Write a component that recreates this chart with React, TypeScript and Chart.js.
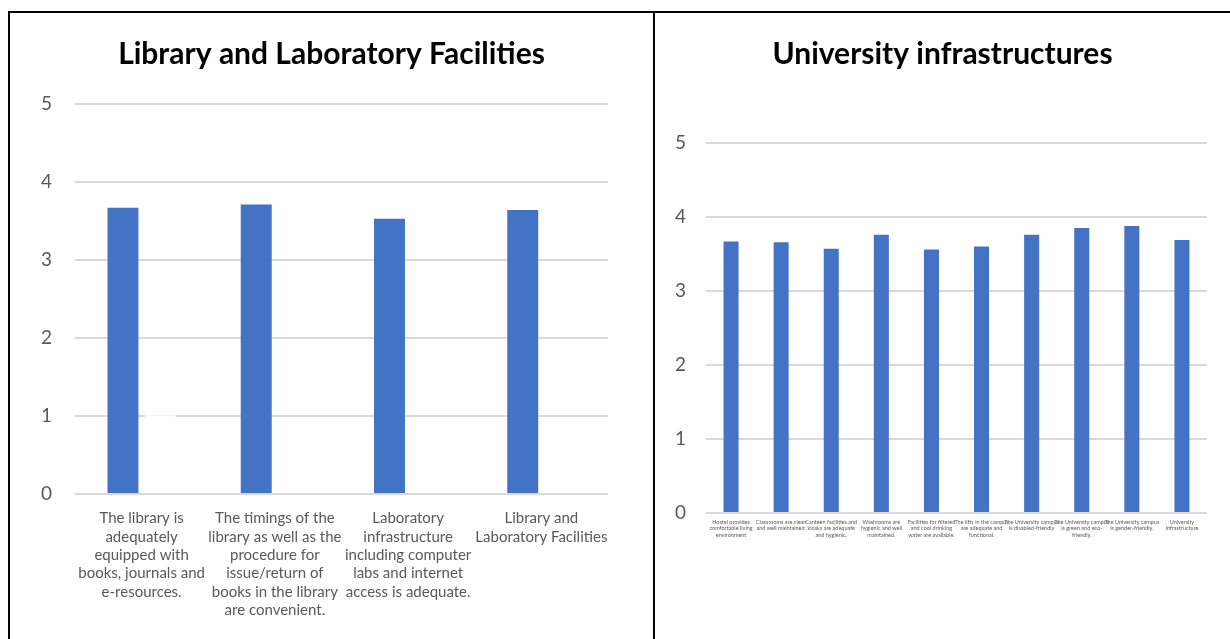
import React, { useEffect, useRef } from 'react';
import { Chart, registerables } from 'chart.js';

Chart.register(...registerables);

const libTitle = 'Library and Laboratory Facilities';
const libCategories: string[][] = [
  ['The library is', 'adequately', 'equipped with', 'books, journals and', 'e-resources.'],
  ['The timings of the', 'library as well as the', 'procedure for', 'issue/return of', 'books in the library', 'are convenient.'],
  ['Laboratory', 'infrastructure', 'including computer', 'labs and internet', 'access is adequate.'],
  ['Library and', 'Laboratory Facilities'],
];
const libScores = [3.67, 3.71, 3.53, 3.64];
const libSeries2: (number | null)[] = [1.01, null, null, null];

const uniTitle = 'University infrastructures';
const uniCategories: string[][] = [
  ['Hostel provides', 'comfortable living', 'environment'],
  ['Classrooms are clean', 'and well maintained.'],
  ['Canteen facilities and', 'kiosks are adequate', 'and hygienic.'],
  ['Washrooms are', 'hygienic and well', 'maintained.'],
  ['Facilities for filtered', 'and cool drinking', 'water are available.'],
  ['The lifts in the campus', 'are adequate and', 'functional.'],
  ['The University campus', 'is disabled-friendly'],
  ['The University campus', 'is green and eco-', 'friendly.'],
  ['The University campus', 'is gender-friendly.'],
  ['University', 'Infrastructure'],
];
const uniScores = [3.67, 3.66, 3.57, 3.76, 3.56, 3.6, 3.76, 3.85, 3.88, 3.69];

const yMin = 0;
const yMax = 5;
const yStep = 1;

const BLUE = '#4472C4';
const GRID = '#D9D9D9';
const TEXT = '#595959';
const FONT = 'Lato';

function spacerAxis(width: number) {
  return {
    position: 'right' as const,
    display: true,
    grid: { display: false, drawTicks: false },
    border: { display: false },
    ticks: { display: false },
    afterFit: (scale: any) => { scale.width = width; },
  };
}

function LibraryChart() {
  const ref = useRef<HTMLCanvasElement | null>(null);
  useEffect(() => {
    if (!ref.current) return;
    const chart = new Chart(ref.current, {
      type: 'bar',
      data: {
        labels: libCategories,
        datasets: [
          { label: 'Series1', data: libScores, backgroundColor: BLUE, borderWidth: 0, categoryPercentage: 0.56, barPercentage: 0.83 },
          { label: 'Series2', data: libSeries2, backgroundColor: '#FFFFFF', borderWidth: 0, categoryPercentage: 0.56, barPercentage: 0.83 },
        ],
      },
      options: {
        responsive: false,
        animation: false,
        devicePixelRatio: 1,
        layout: { padding: 0 },
        plugins: {
          legend: { display: false },
          tooltip: { enabled: false },
          title: {
            display: true,
            text: libTitle,
            color: '#000000',
            font: { family: FONT, size: 30, weight: 'bold', lineHeight: 1.2 },
            padding: { top: 23, bottom: 32 },
          },
        },
        scales: {
          x: {
            grid: { display: false },
            border: { display: false },
            ticks: {
              color: TEXT,
              font: { family: FONT, size: 15, lineHeight: 1.23 },
              autoSkip: false,
              maxRotation: 0,
              minRotation: 0,
              padding: 7,
            },
            afterFit: (scale: any) => { scale.height = 145; },
          },
          y: {
            min: yMin,
            max: yMax,
            grid: { color: GRID, lineWidth: 2, drawTicks: false },
            border: { display: false },
            ticks: {
              stepSize: yStep,
              color: TEXT,
              font: { family: FONT, size: 19 },
              padding: 23,
            },
            afterFit: (scale: any) => { scale.width = 65; },
          },
          yRightSpace: spacerAxis(45),
        },
      },
    });
    return () => chart.destroy();
  }, []);
  return <canvas ref={ref} width={643} height={626} style={{ position: 'absolute', left: 10, top: 13, width: 643, height: 626 }} />;
}

function UniversityChart() {
  const ref = useRef<HTMLCanvasElement | null>(null);
  useEffect(() => {
    if (!ref.current) return;
    const chart = new Chart(ref.current, {
      type: 'bar',
      data: {
        labels: uniCategories,
        datasets: [
          { label: 'Series1', data: uniScores, backgroundColor: BLUE, borderWidth: 0, categoryPercentage: 1, barPercentage: 0.3 },
        ],
      },
      options: {
        responsive: false,
        animation: false,
        devicePixelRatio: 1,
        layout: { padding: 0 },
        plugins: {
          legend: { display: false },
          tooltip: { enabled: false },
          title: {
            display: true,
            text: uniTitle,
            color: '#000000',
            font: { family: FONT, size: 30, weight: 'bold', lineHeight: 1.2 },
            padding: { top: 23, bottom: 71 },
          },
        },
        scales: {
          x: {
            grid: { display: false },
            border: { display: false },
            ticks: {
              color: TEXT,
              font: { family: FONT, size: 5.5, lineHeight: 1.15 },
              autoSkip: false,
              maxRotation: 0,
              minRotation: 0,
              padding: -2,
            },
            afterFit: (scale: any) => { scale.height = 126; },
          },
          y: {
            min: yMin,
            max: yMax,
            grid: { color: GRID, lineWidth: 2, drawTicks: false },
            border: { display: false },
            ticks: {
              stepSize: yStep,
              color: TEXT,
              font: { family: FONT, size: 19 },
              padding: 20,
            },
            afterFit: (scale: any) => { scale.width = 51; },
          },
          yRightSpace: spacerAxis(23),
        },
      },
    });
    return () => chart.destroy();
  }, []);
  return <canvas ref={ref} width={575} height={626} style={{ position: 'absolute', left: 655, top: 13, width: 575, height: 626 }} />;
}

export default function App() {
  return (
    <div style={{ position: 'absolute', left: 0, top: 0, width: 1230, height: 639, overflow: 'hidden', background: '#FFFFFF' }}>
      <div style={{ position: 'absolute', left: 8, top: 11, width: 1222, height: 2, background: '#000' }} />
      <div style={{ position: 'absolute', left: 8, top: 11, width: 2, height: 628, background: '#000' }} />
      <div style={{ position: 'absolute', left: 653, top: 11, width: 2, height: 628, background: '#000' }} />
      <LibraryChart />
      <UniversityChart />
    </div>
  );
}
